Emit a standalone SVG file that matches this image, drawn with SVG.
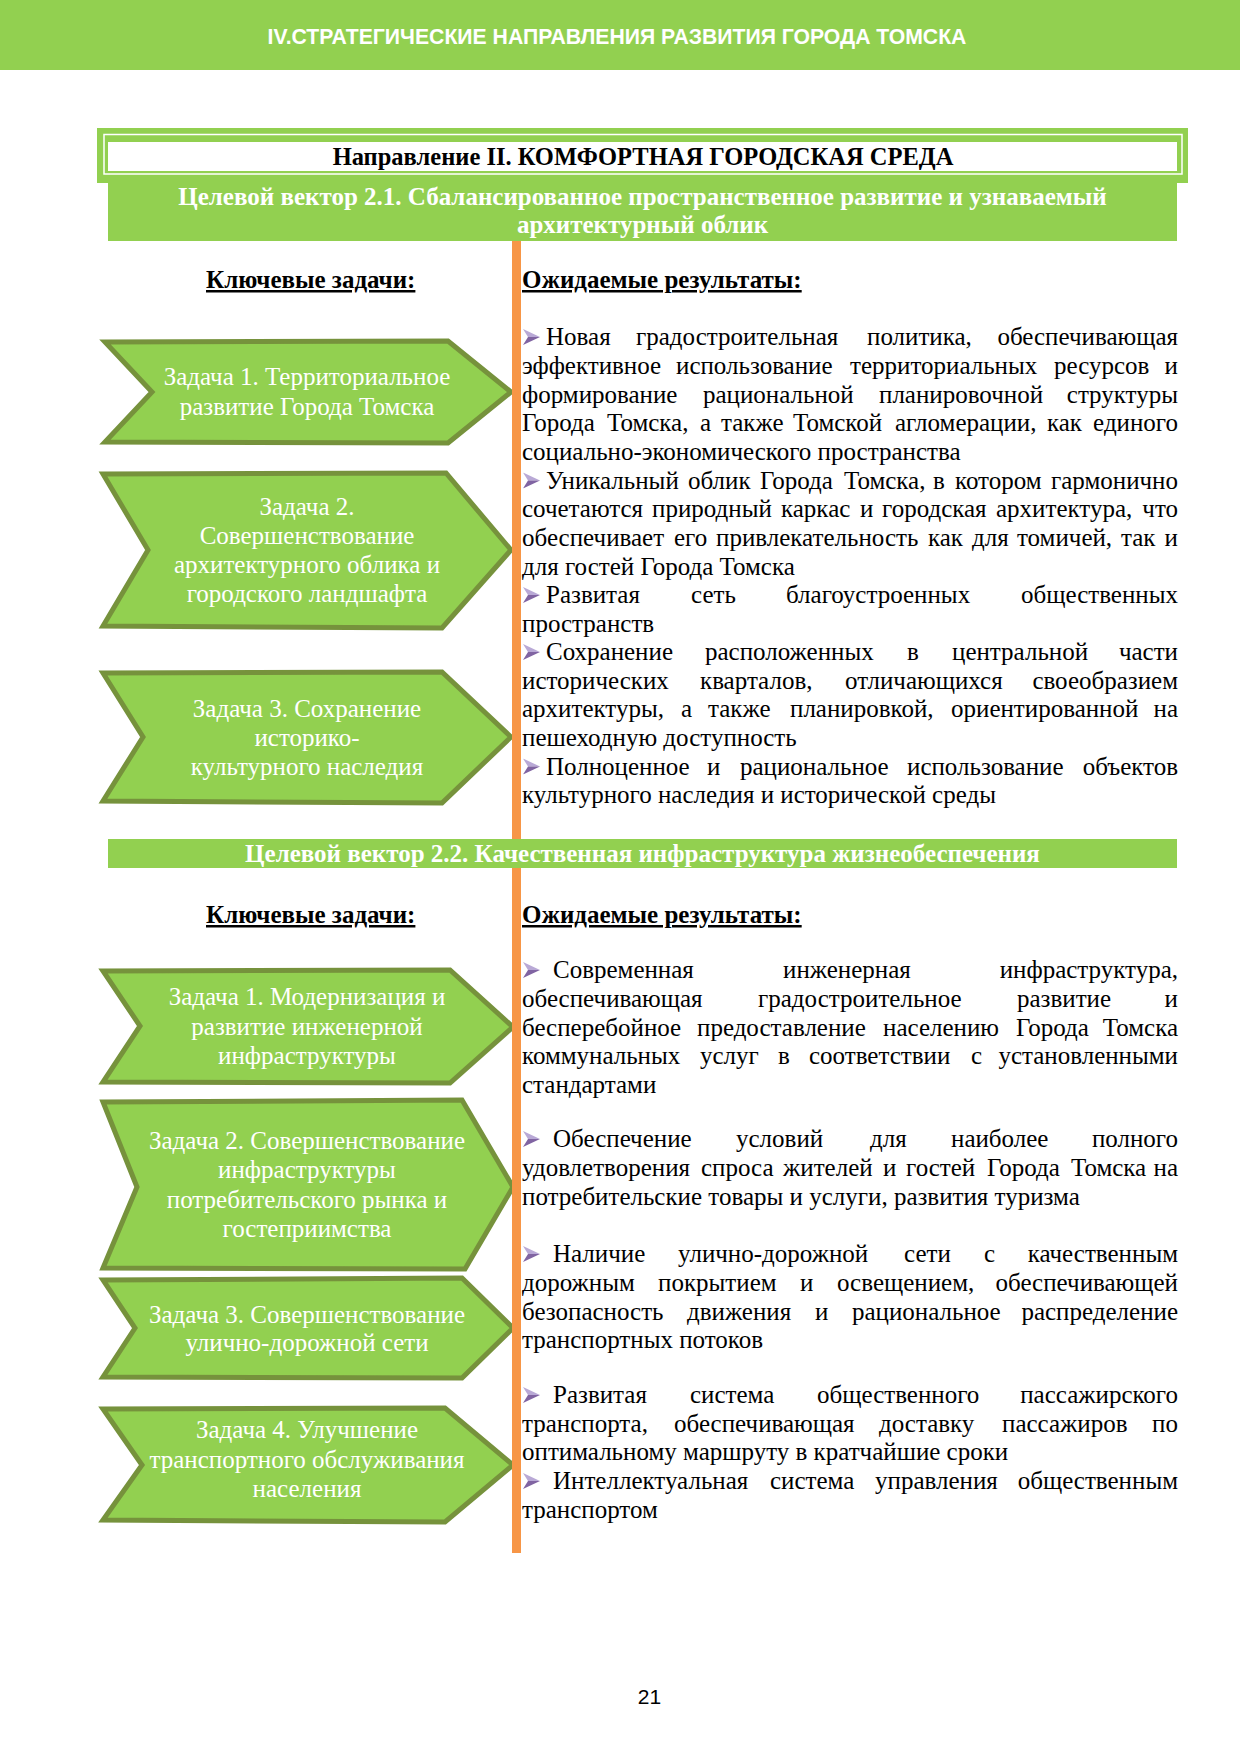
<svg xmlns="http://www.w3.org/2000/svg" xmlns:xlink="http://www.w3.org/1999/xlink" width="1240" height="1754" viewBox="0 0 1240 1754">
<defs>
<style>
.body{font-family:"Liberation Serif","Times New Roman",serif;font-size:25px;fill:#000}
.chev{fill:#92D050;stroke:#76923C;stroke-width:5;stroke-linejoin:miter}
.ctext{font-family:"Liberation Serif","Times New Roman",serif;font-size:25px;fill:#fff;text-anchor:middle}
.band{fill:#92D050}
.btext{font-family:"Liberation Serif","Times New Roman",serif;font-size:25px;font-weight:bold;fill:#fff;text-anchor:middle}
.head{font-family:"Liberation Serif","Times New Roman",serif;font-size:25px;font-weight:bold;fill:#000;text-decoration:underline}
.orange{fill:#F79646}
</style>
<symbol id="bul" viewBox="0 0 17 16">
<polygon points="0,0 17,8 5,8" fill="#B9A9D6"/>
<polygon points="0,16 17,8 5,8" fill="#8064A2"/>
</symbol>
</defs>
<rect width="1240" height="1754" fill="#fff"/>

<g id="page-header">
<rect x="0" y="0" width="1240" height="70" fill="#92D050"/>
<text x="617" y="44" font-family="'Liberation Sans',Arial,sans-serif" font-size="21.2" font-weight="bold" fill="#fff" text-anchor="middle">IV.СТРАТЕГИЧЕСКИЕ НАПРАВЛЕНИЯ РАЗВИТИЯ ГОРОДА ТОМСКА</text>
</g>

<g id="direction-title">
<rect x="97" y="128" width="1091" height="55" fill="#92D050"/>
<rect x="104" y="134.5" width="1078" height="39.5" fill="none" stroke="#fff" stroke-width="1.5"/>
<rect x="108" y="142" width="1069" height="29" fill="#fff"/>
<text x="643" y="165" font-family="'Liberation Serif','Times New Roman',serif" font-size="24.5" font-weight="bold" fill="#000" text-anchor="middle">Направление II. КОМФОРТНАЯ ГОРОДСКАЯ СРЕДА</text>
</g>

<g id="vector-2-1">
<rect class="band" x="108" y="183" width="1069" height="58"/>
<text class="btext" x="642.5" y="205">Целевой вектор 2.1. Сбалансированное пространственное развитие и узнаваемый</text>
<text class="btext" x="642.5" y="233">архитектурный облик</text>
</g>

<g id="vector-2-2">
<rect class="band" x="108" y="839" width="1069" height="29"/>
<text class="btext" x="642.5" y="862">Целевой вектор 2.2. Качественная инфраструктура жизнеобеспечения</text>
</g>

<g id="headings">
<text class="head" x="206" y="288">Ключевые задачи:</text>
<text class="head" x="522" y="288">Ожидаемые результаты:</text>
<text class="head" x="206" y="923">Ключевые задачи:</text>
<text class="head" x="522" y="923">Ожидаемые результаты:</text>
</g>

<g id="task-2-1-1">
<polygon class="chev" points="105,342 448,341 511,392 448,443 105,442 152,392"/>
<text class="ctext" x="307" y="385">Задача 1. Территориальное</text>
<text class="ctext" x="307" y="415">развитие Города Томска</text>
</g>
<g id="task-2-1-2">
<polygon class="chev" points="103,474 446,473 511,550 442,628 103,626 148,550"/>
<text class="ctext" x="307" y="515">Задача 2.</text>
<text class="ctext" x="307" y="544">Совершенствование</text>
<text class="ctext" x="307" y="573">архитектурного облика и</text>
<text class="ctext" x="307" y="602">городского ландшафта</text>
</g>
<g id="task-2-1-3">
<polygon class="chev" points="103,673 442,672 511,737 442,803 103,801 143,737"/>
<text class="ctext" x="307" y="717">Задача 3. Сохранение</text>
<text class="ctext" x="307" y="746">историко-</text>
<text class="ctext" x="307" y="775">культурного наследия</text>
</g>

<g id="task-2-2-1">
<polygon class="chev" points="103,971 450,970 513,1027 450,1083 103,1082 140,1026"/>
<text class="ctext" x="307" y="1005">Задача 1. Модернизация и</text>
<text class="ctext" x="307" y="1035">развитие инженерной</text>
<text class="ctext" x="307" y="1064">инфраструктуры</text>
</g>
<g id="task-2-2-2">
<polygon class="chev" points="103,1102 462,1100 513,1187 465,1269 103,1268 137,1187"/>
<text class="ctext" x="307" y="1149">Задача 2. Совершенствование</text>
<text class="ctext" x="307" y="1178">инфраструктуры</text>
<text class="ctext" x="307" y="1208">потребительского рынка и</text>
<text class="ctext" x="307" y="1237">гостеприимства</text>
</g>
<g id="task-2-2-3">
<polygon class="chev" points="103,1280 462,1278 513,1328 462,1378 103,1377 135,1328"/>
<text class="ctext" x="307" y="1323">Задача 3. Совершенствование</text>
<text class="ctext" x="307" y="1351">улично-дорожной сети</text>
</g>
<g id="task-2-2-4">
<polygon class="chev" points="103,1409 445,1408 513,1465 445,1522 103,1520 142,1465"/>
<text class="ctext" x="307" y="1438">Задача 4. Улучшение</text>
<text class="ctext" x="307" y="1468">транспортного обслуживания</text>
<text class="ctext" x="307" y="1497">населения</text>
</g>

<g id="dividers">
<rect class="orange" x="512" y="241" width="9" height="598"/>
<rect class="orange" x="512" y="868" width="9" height="685"/>
</g>

<g id="results-2-1">
<use xlink:href="#bul" href="#bul" x="523" y="329" width="17" height="16"/>
<text class="body" y="345"><tspan x="546">Новая</tspan><tspan x="636">градостроительная</tspan><tspan x="867">политика,</tspan><tspan x="1178" text-anchor="end">обеспечивающая</tspan></text>
<text class="body" y="374"><tspan x="522">эффективное</tspan><tspan x="676">использование</tspan><tspan x="850">территориальных</tspan><tspan x="1054">ресурсов</tspan><tspan x="1178" text-anchor="end">и</tspan></text>
<text class="body" y="402.5"><tspan x="522">формирование</tspan><tspan x="703">рациональной</tspan><tspan x="879">планировочной</tspan><tspan x="1178" text-anchor="end">структуры</tspan></text>
<text class="body" y="431"><tspan x="522">Города</tspan><tspan x="607">Томска,</tspan><tspan x="700">а</tspan><tspan x="721">также</tspan><tspan x="793">Томской</tspan><tspan x="895">агломерации,</tspan><tspan x="1047">как</tspan><tspan x="1178" text-anchor="end">единого</tspan></text>
<text class="body" x="522" y="460">социально-экономического пространства</text>
<use xlink:href="#bul" href="#bul" x="523" y="472.5" width="17" height="16"/>
<text class="body" y="488.5"><tspan x="546">Уникальный</tspan><tspan x="688">облик</tspan><tspan x="760">Города</tspan><tspan x="844">Томска,</tspan><tspan x="933">в</tspan><tspan x="955">котором</tspan><tspan x="1178" text-anchor="end">гармонично</tspan></text>
<text class="body" y="517"><tspan x="522">сочетаются</tspan><tspan x="652">природный</tspan><tspan x="781">каркас</tspan><tspan x="860">и</tspan><tspan x="882">городская</tspan><tspan x="996">архитектура,</tspan><tspan x="1178" text-anchor="end">что</tspan></text>
<text class="body" y="546"><tspan x="522">обеспечивает</tspan><tspan x="674">его</tspan><tspan x="716">привлекательность</tspan><tspan x="928">как</tspan><tspan x="972">для</tspan><tspan x="1017">томичей,</tspan><tspan x="1121">так</tspan><tspan x="1178" text-anchor="end">и</tspan></text>
<text class="body" x="522" y="574.5">для гостей Города Томска</text>
<use xlink:href="#bul" href="#bul" x="523" y="587" width="17" height="16"/>
<text class="body" y="603"><tspan x="546">Развитая</tspan><tspan x="691">сеть</tspan><tspan x="786">благоустроенных</tspan><tspan x="1178" text-anchor="end">общественных</tspan></text>
<text class="body" x="522" y="631.5">пространств</text>
<use xlink:href="#bul" href="#bul" x="523" y="644" width="17" height="16"/>
<text class="body" y="660"><tspan x="546">Сохранение</tspan><tspan x="705">расположенных</tspan><tspan x="907">в</tspan><tspan x="952">центральной</tspan><tspan x="1178" text-anchor="end">части</tspan></text>
<text class="body" y="688.5"><tspan x="522">исторических</tspan><tspan x="700">кварталов,</tspan><tspan x="845">отличающихся</tspan><tspan x="1178" text-anchor="end">своеобразием</tspan></text>
<text class="body" y="717"><tspan x="522">архитектуры,</tspan><tspan x="681">а</tspan><tspan x="708">также</tspan><tspan x="790">планировкой,</tspan><tspan x="951">ориентированной</tspan><tspan x="1178" text-anchor="end">на</tspan></text>
<text class="body" x="522" y="746">пешеходную доступность</text>
<use xlink:href="#bul" href="#bul" x="523" y="758.5" width="17" height="16"/>
<text class="body" y="774.5"><tspan x="546">Полноценное</tspan><tspan x="707">и</tspan><tspan x="740">рациональное</tspan><tspan x="907">использование</tspan><tspan x="1178" text-anchor="end">объектов</tspan></text>
<text class="body" x="522" y="803">культурного наследия и исторической среды</text>
</g>

<g id="results-2-2">
<use xlink:href="#bul" href="#bul" x="523" y="962" width="17" height="16"/>
<text class="body" y="978"><tspan x="553">Современная</tspan><tspan x="783">инженерная</tspan><tspan x="1178" text-anchor="end">инфраструктура,</tspan></text>
<text class="body" y="1007"><tspan x="522">обеспечивающая</tspan><tspan x="758">градостроительное</tspan><tspan x="1017">развитие</tspan><tspan x="1178" text-anchor="end">и</tspan></text>
<text class="body" y="1035.5"><tspan x="522">бесперебойное</tspan><tspan x="697">предоставление</tspan><tspan x="883">населению</tspan><tspan x="1016">Города</tspan><tspan x="1178" text-anchor="end">Томска</tspan></text>
<text class="body" y="1064"><tspan x="522">коммунальных</tspan><tspan x="700">услуг</tspan><tspan x="778">в</tspan><tspan x="809">соответствии</tspan><tspan x="971">с</tspan><tspan x="1178" text-anchor="end">установленными</tspan></text>
<text class="body" x="522" y="1093">стандартами</text>
<use xlink:href="#bul" href="#bul" x="523" y="1131" width="17" height="16"/>
<text class="body" y="1147"><tspan x="553">Обеспечение</tspan><tspan x="736">условий</tspan><tspan x="870">для</tspan><tspan x="951">наиболее</tspan><tspan x="1178" text-anchor="end">полного</tspan></text>
<text class="body" y="1176"><tspan x="522">удовлетворения</tspan><tspan x="701">спроса</tspan><tspan x="783">жителей</tspan><tspan x="883">и</tspan><tspan x="906">гостей</tspan><tspan x="987">Города</tspan><tspan x="1071">Томска</tspan><tspan x="1178" text-anchor="end">на</tspan></text>
<text class="body" x="522" y="1205">потребительские товары и услуги, развития туризма</text>
<use xlink:href="#bul" href="#bul" x="523" y="1246" width="17" height="16"/>
<text class="body" y="1262"><tspan x="553">Наличие</tspan><tspan x="678">улично-дорожной</tspan><tspan x="904">сети</tspan><tspan x="984">с</tspan><tspan x="1178" text-anchor="end">качественным</tspan></text>
<text class="body" y="1291"><tspan x="522">дорожным</tspan><tspan x="658">покрытием</tspan><tspan x="800">и</tspan><tspan x="837">освещением,</tspan><tspan x="1178" text-anchor="end">обеспечивающей</tspan></text>
<text class="body" y="1320"><tspan x="522">безопасность</tspan><tspan x="687">движения</tspan><tspan x="815">и</tspan><tspan x="852">рациональное</tspan><tspan x="1178" text-anchor="end">распределение</tspan></text>
<text class="body" x="522" y="1348">транспортных потоков</text>
<use xlink:href="#bul" href="#bul" x="523" y="1387" width="17" height="16"/>
<text class="body" y="1403"><tspan x="553">Развитая</tspan><tspan x="690">система</tspan><tspan x="817">общественного</tspan><tspan x="1178" text-anchor="end">пассажирского</tspan></text>
<text class="body" y="1432"><tspan x="522">транспорта,</tspan><tspan x="674">обеспечивающая</tspan><tspan x="879">доставку</tspan><tspan x="1002">пассажиров</tspan><tspan x="1178" text-anchor="end">по</tspan></text>
<text class="body" x="522" y="1460">оптимальному маршруту в кратчайшие сроки</text>
<use xlink:href="#bul" href="#bul" x="523" y="1473" width="17" height="16"/>
<text class="body" y="1489"><tspan x="553">Интеллектуальная</tspan><tspan x="770">система</tspan><tspan x="875">управления</tspan><tspan x="1178" text-anchor="end">общественным</tspan></text>
<text class="body" x="522" y="1518">транспортом</text>
</g>

<g id="page-number">
<text x="649.5" y="1704" font-family="'Liberation Sans',Arial,sans-serif" font-size="21" fill="#000" text-anchor="middle">21</text>
</g>
</svg>
